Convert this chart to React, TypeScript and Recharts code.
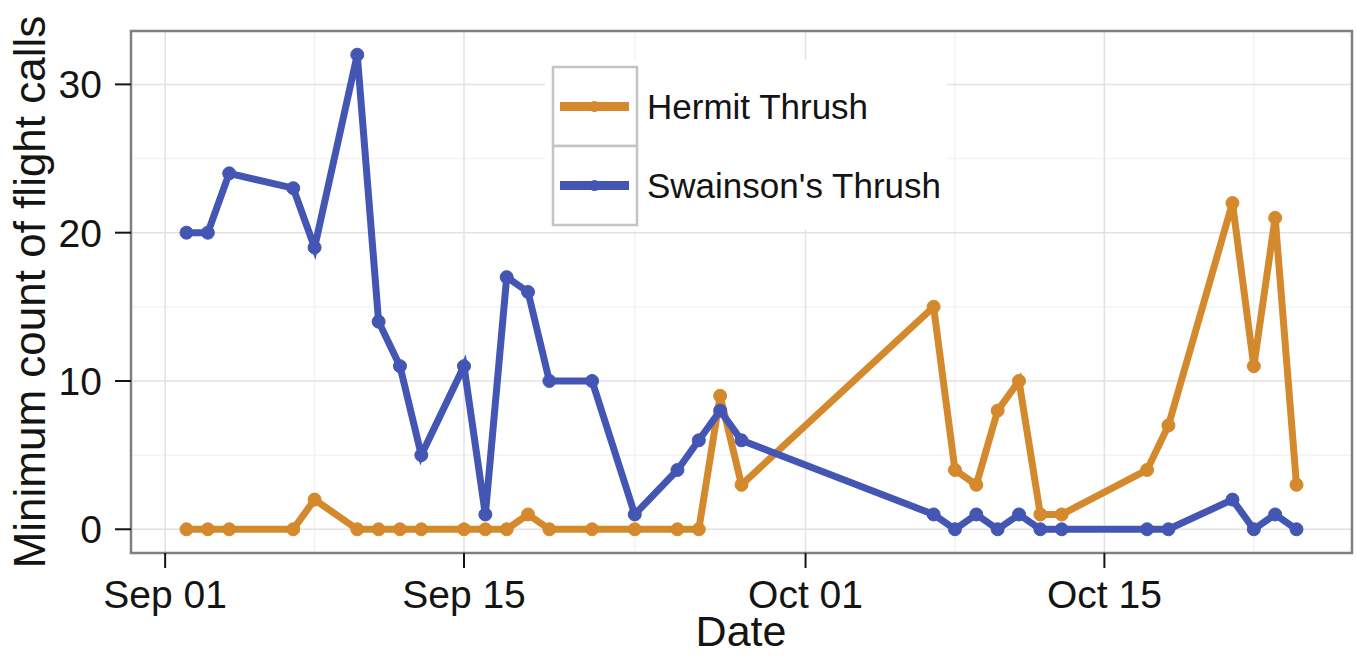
import { CartesianGrid, Line, LineChart, ReferenceArea, XAxis, YAxis } from "recharts";

const dates = [
  "Sep 02", "Sep 03", "Sep 04", "Sep 07", "Sep 08", "Sep 10", "Sep 11", "Sep 12", "Sep 13",
  "Sep 15", "Sep 16", "Sep 17", "Sep 18", "Sep 19", "Sep 21", "Sep 23", "Sep 25", "Sep 26",
  "Sep 27", "Sep 28", "Oct 07", "Oct 08", "Oct 09", "Oct 10", "Oct 11", "Oct 12", "Oct 13",
  "Oct 17", "Oct 18", "Oct 21", "Oct 22", "Oct 23", "Oct 24",
];

const hermit = [0, 0, 0, 0, 2, 0, 0, 0, 0, 0, 0, 0, 1, 0, 0, 0, 0, 0, 9, 3, 15, 4, 3, 8, 10, 1, 1, 4, 7, 22, 11, 21, 3];
const swainson = [20, 20, 24, 23, 19, 32, 14, 11, 5, 11, 1, 17, 16, 10, 10, 1, 4, 6, 8, 6, 1, 0, 1, 0, 1, 0, 0, 0, 0, 2, 0, 1, 0];

const xTickDates = ["Sep 01", "Sep 15", "Oct 01", "Oct 15"];
const xMinorDates = ["Sep 08", "Sep 23", "Oct 08", "Oct 22"];
const yTicks = [0, 10, 20, 30];
const yMinor = [5, 15, 25];

const seriesNames = ["Hermit Thrush", "Swainson's Thrush"];
const seriesColors = ["#D4892C", "#4456B3"];

const MONTHS: Record<string, number> = { Sep: 8, Oct: 9 };

// days since Sep 01
function dayOf(label: string) {
  const [mon, d] = label.split(" ");
  const t = Date.UTC(2012, MONTHS[mon], Number(d));
  return Math.round((t - Date.UTC(2012, 8, 1)) / 86400000);
}

function fmtDay(day: number) {
  const t = new Date(Date.UTC(2012, 8, 1) + day * 86400000);
  const mon = t.getUTCMonth() === 8 ? "Sep" : "Oct";
  return `${mon} ${String(t.getUTCDate()).padStart(2, "0")}`;
}

function padded(values: number[]) {
  const lo = Math.min(...values);
  const hi = Math.max(...values);
  const pad = (hi - lo) * 0.05;
  return [lo - pad, hi + pad];
}

const rows = dates.map((d, i) => ({
  day: dayOf(d),
  hermit: hermit[i],
  swainson: swainson[i],
}));

const xTicks = xTickDates.map(dayOf);
const xMinor = xMinorDates.map(dayOf);
const xDomain = padded(rows.map((r) => r.day));
const yDomain = padded([...hermit, ...swainson]);

const FONT = '"Liberation Sans", Arial, sans-serif';
const INK = "#141414";

export default function App() {
  return (
    <div
      style={{
        position: "fixed",
        left: 0,
        top: 0,
        width: 1356,
        height: 656,
        background: "#fff",
        fontFamily: FONT,
      }}
    >
      <LineChart width={1356} height={656} data={rows} margin={{ top: 31, right: 4, bottom: 0, left: 0 }}>
        <CartesianGrid horizontalValues={yMinor} verticalValues={xMinor} stroke="#f3f3f3" strokeWidth={1.5} />
        <CartesianGrid horizontalValues={yTicks} verticalValues={xTicks} stroke="#e3e1e1" strokeWidth={1.5} />
        <XAxis
          type="number"
          dataKey="day"
          domain={xDomain}
          ticks={xTicks}
          allowDataOverflow
          tickFormatter={fmtDay}
          height={103}
          tickSize={15}
          tickMargin={12}
          axisLine={false}
          tickLine={{ stroke: INK, strokeWidth: 2 }}
          tick={{ fontSize: 39, fill: INK }}
          label={{
            content: () => (
              <text x={741} y={646} textAnchor="middle" fontSize={43} fill={INK}>
                Date
              </text>
            ),
          }}
        />
        <YAxis
          type="number"
          domain={yDomain}
          ticks={yTicks}
          allowDataOverflow
          width={131}
          tickSize={16}
          tickMargin={13}
          axisLine={false}
          tickLine={{ stroke: INK, strokeWidth: 2 }}
          tick={{ fontSize: 39, fill: INK }}
          label={{
            content: () => (
              <text
                x={45}
                y={292}
                textAnchor="middle"
                fontSize={44}
                fill={INK}
                transform="rotate(-90 45 292)"
              >
                Minimum count of flight calls
              </text>
            ),
          }}
        />
        <ReferenceArea
          x1={xDomain[0]}
          x2={xDomain[1]}
          y1={yDomain[0]}
          y2={yDomain[1]}
          fill="none"
          fillOpacity={0}
          stroke="#7f7f7f"
          strokeWidth={2.5}
          ifOverflow="visible"
        />
        <Line
          dataKey="hermit"
          name={seriesNames[0]}
          stroke={seriesColors[0]}
          strokeWidth={7}
          dot={{ r: 6.5, fill: seriesColors[0], stroke: seriesColors[0], strokeWidth: 1 }}
          isAnimationActive={false}
        />
        <Line
          dataKey="swainson"
          name={seriesNames[1]}
          stroke={seriesColors[1]}
          strokeWidth={7}
          dot={{ r: 6.5, fill: seriesColors[1], stroke: seriesColors[1], strokeWidth: 1 }}
          isAnimationActive={false}
        />
      </LineChart>

      <svg style={{ position: "absolute", left: 545, top: 60 }} width={402} height={170}>
        <rect x={0} y={0} width={402} height={170} fill="#fff" />
        {seriesNames.map((name, i) => {
          const top = 7 + i * 79;
          const cy = top + 39.5;
          return (
            <g key={name}>
              <rect x={8} y={top} width={84} height={79} fill="#fff" stroke="#c6c3c3" strokeWidth={2.5} />
              <line x1={15} x2={84} y1={cy} y2={cy} stroke={seriesColors[i]} strokeWidth={9} />
              <circle cx={49.5} cy={cy} r={5.5} fill={seriesColors[i]} />
              <text x={102} y={cy + 12.5} fontSize={35} fill={INK}>
                {name}
              </text>
            </g>
          );
        })}
      </svg>
    </div>
  );
}
